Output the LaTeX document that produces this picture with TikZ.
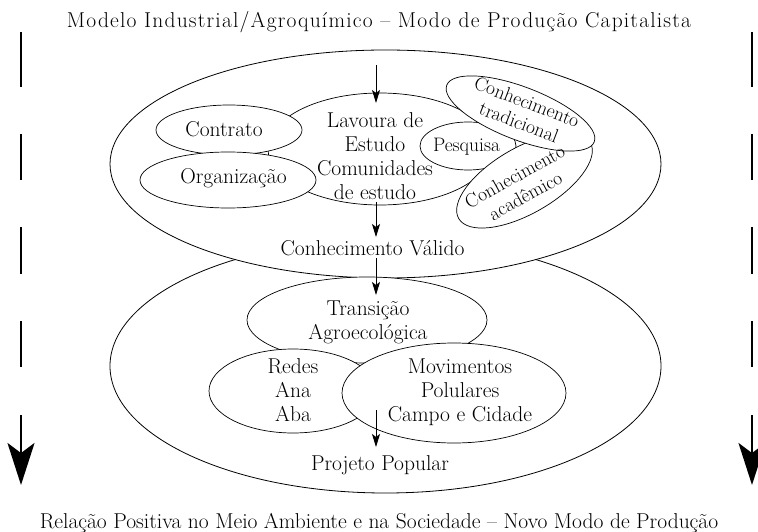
\documentclass[tikz,border=0pt]{standalone}
\usepackage{fontspec}
\newfontfamily\ttlfont{lmroman17-regular.otf}[LetterSpace=5.5]
\usetikzlibrary{shapes.geometric,arrows.meta}
\begin{document}
\begin{tikzpicture}[x=1pt,y=-1pt,
  ell/.style={ellipse, draw, fill=white, line width=0.7pt, inner sep=0pt},
  lbl/.style={font=\fontsize{21.5}{24}\selectfont, align=center, inner sep=0pt},
  sml/.style={font=\fontsize{19.5}{22}\selectfont, align=center, inner sep=0pt},
  flow/.style={line width=0.8pt, -{Stealth[length=13pt,width=8pt,inset=3pt]}},
  side/.style={line width=2pt, -{Stealth[length=42pt,width=27pt,inset=10pt]},
    dash pattern=on 55pt off 47pt on 46pt off 47pt on 47pt off 47pt on 46pt off 48pt on 200pt}]
\useasboundingbox (0,0) rectangle (758,532);
% big ellipses
\node[ell, line width=0.8pt, minimum width=551pt, minimum height=254pt] (lowbig) at (385.5,366) {};
\node[ell, line width=0.8pt, minimum width=551pt, minimum height=228pt] (upbig) at (385.5,164) {};
% upper inner ellipses
\node[ell, minimum width=224pt, minimum height=112pt] (lav) at (380,149) {};
\node[ell, minimum width=146pt, minimum height=50pt] (contr) at (229,130) {};
\node[ell, minimum width=176pt, minimum height=56pt] (org) at (228,180) {};
\node[ell, minimum width=96pt, minimum height=48pt] (pesq) at (468,146) {};
\node[ell, minimum width=152pt, minimum height=66pt, rotate=30] (acad) at (524.5,180.5) {};
\node[ell, minimum width=158pt, minimum height=53pt, rotate=-21] (trad) at (520.5,113.5) {};
% lower inner ellipses
\node[ell, minimum width=240pt, minimum height=86pt] (trans) at (367,320) {};
\node[ell, minimum width=168pt, minimum height=84pt] (redes) at (293,391) {};
\node[ell, minimum width=224pt, minimum height=100pt] (mov) at (454,393) {};
% texts
\node[anchor=base, inner sep=0pt, font=\ttlfont\fontsize{21.5}{24}\selectfont] (ttl) at (379,28) {Modelo Industrial/Agroquímico – Modo de Produção Capitalista};
\node[anchor=base, inner sep=0pt, font=\fontsize{21.5}{24}\selectfont] (btm) at (379,528) {Relação Positiva no Meio Ambiente e na Sociedade – Novo Modo de Produção};
\node[lbl] (lavt) at (375,156) {Lavoura de\\Estudo\\Comunidades\\de estudo};
\node[lbl, anchor=base] (contrt) at (224,137) {Contrato};
\node[lbl, anchor=base] (orgt) at (233.5,183) {Organização};
\node[sml, anchor=base] (pesqt) at (466.5,152) {Pesquisa};
\node[sml, rotate=-21] (tradt) at (523,112) {Conhecimento\\tradicional};
\node[sml, rotate=29] (acadt) at (520,186) {Conhecimento\\acadêmico};
\node[lbl, anchor=base] (cvt) at (372.5,255) {Conhecimento Válido};
\node[lbl] (transt) at (368,322) {Transição\\Agroecológica};
\node[lbl] (redest) at (293,390) {Redes\\Ana\\Aba};
\node[lbl] (movt) at (460,392) {Movimentos\\Polulares\\Campo e Cidade};
\node[lbl, anchor=base] (projt) at (380,470) {Projeto Popular};
% arrow coordinates
\coordinate (a1s) at (376,65);  \coordinate (a1e) at (376,103);
\coordinate (a2s) at (376,202); \coordinate (a2e) at (376,237);
\coordinate (a3s) at (376,258); \coordinate (a3e) at (376,295);
\coordinate (a4s) at (376,410); \coordinate (a4e) at (376,447);
\coordinate (ls) at (21,32);  \coordinate (le) at (21,485);
\coordinate (rs) at (752,32); \coordinate (re) at (752,485);
\draw[flow] (a1s) -- (a1e);
\draw[flow] (a2s) -- (a2e);
\draw[flow] (a3s) -- (a3e);
\draw[flow] (a4s) -- (a4e);
\draw[side] (ls) -- (le);
\draw[side] (rs) -- (re);
\end{tikzpicture}
\end{document}
